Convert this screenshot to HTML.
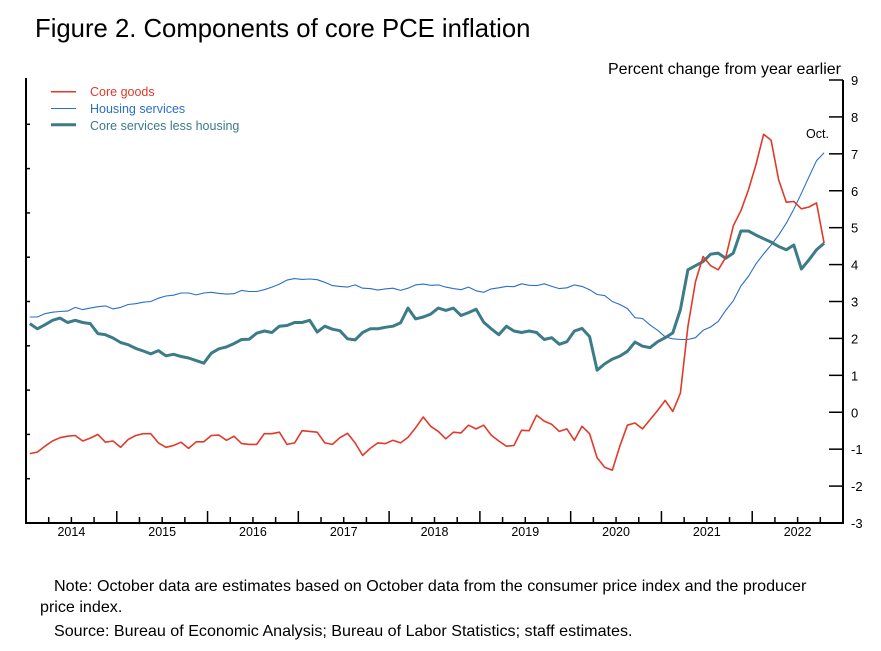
<!DOCTYPE html>
<html><head><meta charset="utf-8"><style>
body{margin:0;background:#fff;width:881px;height:651px;overflow:hidden;font-family:"Liberation Sans",Arial,sans-serif}
svg{position:absolute;left:0;top:0}
</style></head><body>
<svg id="chart" width="881" height="651" xmlns="http://www.w3.org/2000/svg" font-family="Liberation Sans, Arial, sans-serif">
<text x="35" y="37" font-size="25.7" fill="#000">Figure 2. Components of core PCE inflation</text>
<text x="841" y="74" font-size="16" text-anchor="end" fill="#000">Percent change from year earlier</text>
<g id="axes"></g>
<g id="series"></g>
<g>
<line x1="51" y1="91.7" x2="76" y2="91.7" stroke="#e03a2a" stroke-width="1.5"/>
<text x="90" y="96" font-size="12.5" fill="#e03a2a">Core goods</text>
<line x1="51" y1="108.5" x2="76" y2="108.5" stroke="#2a6fc9" stroke-width="1"/>
<text x="90" y="113" font-size="12.5" fill="#2a6fc9">Housing services</text>
<line x1="51" y1="124.7" x2="76" y2="124.7" stroke="#3c7b88" stroke-width="3"/>
<text x="90" y="130" font-size="12.5" fill="#3c7b88">Core services less housing</text>
</g>
<text x="806" y="138" font-size="12.5" fill="#000">Oct.</text>
<text x="54" y="591" font-size="16.1" fill="#000">Note: October data are estimates based on October data from the consumer price index and the producer</text>
<text x="40" y="612" font-size="16.1" fill="#000">price index.</text>
<text x="54" y="636" font-size="16.1" fill="#000">Source: Bureau of Economic Analysis; Bureau of Labor Statistics; staff estimates.</text>
</svg>
<script>
const years = [2014,2015,2016,2017,2018,2019,2020,2021,2022];
const yTicks = [9,8,7,6,5,4,3,2,1,0,-1,-2,-3];
const coreGoods = [-1.12,-1.08,-0.92,-0.78,-0.69,-0.65,-0.63,-0.78,-0.70,-0.60,-0.81,-0.78,-0.95,-0.74,-0.63,-0.58,-0.58,-0.83,-0.95,-0.90,-0.81,-0.98,-0.80,-0.80,-0.63,-0.62,-0.76,-0.65,-0.85,-0.87,-0.87,-0.58,-0.58,-0.54,-0.87,-0.83,-0.50,-0.52,-0.54,-0.83,-0.87,-0.69,-0.57,-0.83,-1.17,-0.98,-0.83,-0.85,-0.76,-0.83,-0.68,-0.42,-0.13,-0.38,-0.52,-0.72,-0.54,-0.56,-0.35,-0.45,-0.35,-0.62,-0.78,-0.92,-0.90,-0.49,-0.50,-0.08,-0.24,-0.33,-0.52,-0.45,-0.76,-0.38,-0.58,-1.23,-1.49,-1.57,-0.92,-0.35,-0.29,-0.45,-0.20,0.05,0.32,0.02,0.52,2.32,3.54,4.22,3.97,3.86,4.19,5.05,5.46,6.02,6.71,7.53,7.37,6.29,5.69,5.71,5.51,5.56,5.67,4.58];
const housing = [2.58,2.58,2.67,2.71,2.73,2.74,2.84,2.78,2.82,2.86,2.88,2.80,2.84,2.92,2.94,2.98,3.00,3.09,3.15,3.17,3.23,3.23,3.18,3.23,3.25,3.22,3.20,3.21,3.30,3.27,3.27,3.32,3.39,3.47,3.58,3.62,3.60,3.61,3.59,3.52,3.43,3.41,3.39,3.45,3.36,3.35,3.31,3.34,3.36,3.30,3.36,3.45,3.47,3.44,3.45,3.39,3.35,3.32,3.39,3.29,3.25,3.34,3.37,3.41,3.40,3.48,3.44,3.43,3.48,3.41,3.35,3.37,3.45,3.41,3.32,3.19,3.16,3.00,2.92,2.81,2.56,2.54,2.36,2.22,2.04,1.99,1.97,1.97,2.02,2.22,2.31,2.46,2.76,3.02,3.42,3.68,4.02,4.29,4.53,4.80,5.12,5.50,5.93,6.38,6.81,7.03];
const servicesExHousing = [2.40,2.26,2.37,2.49,2.55,2.43,2.49,2.43,2.40,2.13,2.10,2.01,1.89,1.83,1.73,1.66,1.58,1.67,1.53,1.57,1.51,1.47,1.40,1.33,1.60,1.72,1.77,1.86,1.97,1.98,2.14,2.20,2.16,2.33,2.35,2.43,2.43,2.49,2.17,2.33,2.25,2.21,1.99,1.96,2.16,2.26,2.26,2.30,2.33,2.42,2.82,2.53,2.58,2.66,2.82,2.76,2.82,2.62,2.70,2.79,2.44,2.26,2.10,2.33,2.20,2.16,2.20,2.16,1.97,2.02,1.84,1.91,2.20,2.27,2.05,1.14,1.31,1.44,1.52,1.65,1.90,1.79,1.75,1.91,2.02,2.15,2.78,3.86,3.97,4.08,4.28,4.31,4.17,4.31,4.91,4.91,4.80,4.70,4.61,4.49,4.40,4.53,3.88,4.13,4.40,4.58];

const NS='http://www.w3.org/2000/svg';
const L=26, R=843, T=80, B=523, yearW=(R-L)/9;
const yMin=-3, yMax=9;
function xScale(i){ return L + yearW*(i+0.5)/12; }
function yScale(v){ return B - (v - yMin)/(yMax - yMin)*(B - T); }
function mk(tag, attrs, parent){ const e=document.createElementNS(NS,tag); for(const k in attrs) e.setAttribute(k,attrs[k]); parent.appendChild(e); return e; }
const axes=document.getElementById('axes');
let frame=mk('path',{d:`M${L},${T-2}V${B}H${R}V${T}`,fill:'none',stroke:'#000','stroke-width':2},axes);


for(let k=1;k<10;k++){
  const y=T+(B-T)*k/10;
  const t=mk('line',{x1:L,x2:L+4,y1:y,y2:y,stroke:'#000','stroke-width':1.5},axes);
  
  
}
yTicks.forEach(v=>{
  const y=yScale(v);
  const t=mk('line',{x1:R-14,x2:R,y1:y,y2:y,stroke:'#000','stroke-width':1.5},axes);
  
  
  const lb=mk('text',{x:851,y:y+5,'font-size':13,fill:'#000'},axes);
  lb.textContent=v;
  
  
});
years.forEach((yr,k)=>{
  const x0=L+yearW*k;
  for(let q=1;q<4;q++){
    const x=x0+yearW*q/4;
    const t=mk('line',{x1:x,x2:x,y1:B,y2:B-6,stroke:'#000','stroke-width':1.5},axes);
    
    
  }
  if(k>0){
    const t=mk('line',{x1:x0,x2:x0,y1:B,y2:B-12,stroke:'#000','stroke-width':1.5},axes);
    
    
  }
  const lb=mk('text',{x:x0+yearW/2,y:B+13,'font-size':12.5,'text-anchor':'middle',fill:'#000'},axes);
  lb.textContent=yr;
  
  
});
const sg=document.getElementById('series');
function line(data,color,w,name){
  const d=data.map((v,i)=>(i?'L':'M')+xScale(i).toFixed(1)+','+yScale(v).toFixed(1)).join('');
  const p=mk('path',{d:d,fill:'none',stroke:color,'stroke-width':w,'stroke-linejoin':'round'},sg);
  
  
}
line(housing,'#2a6fc9',1.1,'housing-services-line');
line(servicesExHousing,'#3c7b88',3,'core-services-less-housing-line');
line(coreGoods,'#e03a2a',1.6,'core-goods-line');
</script>
</body></html>
